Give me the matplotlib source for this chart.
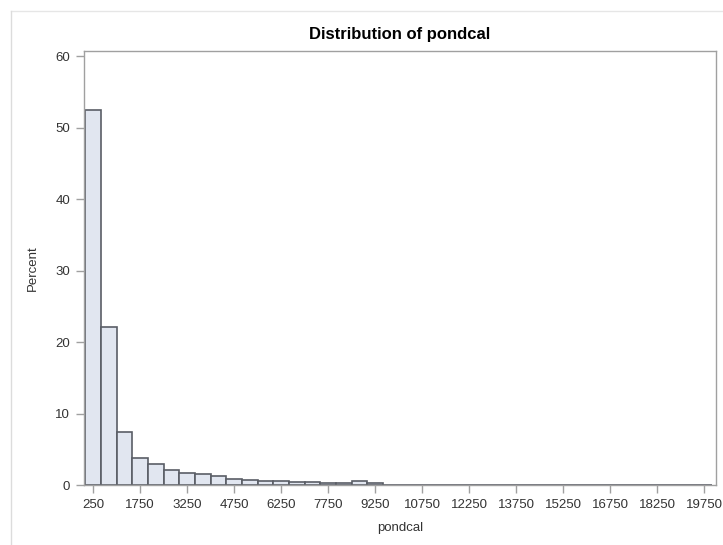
import matplotlib
matplotlib.use("Agg")
import matplotlib.pyplot as plt
from matplotlib.lines import Line2D
import numpy as np

# Histogram of pondcal: bins of width 500, midpoints 250 .. 19750
bin_width = 500
midpoints = list(range(250, 20000, 500))
percent = [52.4, 22.1, 7.35, 3.72, 2.9, 2.05, 1.72, 1.53, 1.28, 0.9,
           0.74, 0.58, 0.5, 0.43, 0.42, 0.3, 0.3, 0.62, 0.25, 0.05,
           0.04, 0.04, 0.03, 0.03, 0.04, 0.03, 0.02, 0.03, 0.02, 0.03,
           0.02, 0.02, 0.02, 0.03, 0.02, 0.02, 0.06, 0.05, 0.04, 0.06]
xtick_values = list(range(250, 20000, 1500))
ytick_values = [0, 10, 20, 30, 40, 50, 60]

plt.rcParams['font.family'] = ['Liberation Sans', 'DejaVu Sans']

fig = plt.figure(figsize=(7.23, 5.45), dpi=100)
fig.patch.set_facecolor('white')

# thin outer border of the graph area
fig.add_artist(Line2D([11 / 723, 1.0], [1 - 11 / 545, 1 - 11 / 545],
                      transform=fig.transFigure, color='#e6e6e6', lw=1))
fig.add_artist(Line2D([11 / 723, 11 / 723], [0, 1 - 11 / 545],
                      transform=fig.transFigure, color='#dcdcdc', lw=1))

ax = fig.add_axes([84 / 723, 1 - 485 / 545, (716 - 84) / 723, (485 - 51) / 545])

ax.bar(midpoints, percent, width=bin_width, align='center',
       color='#e1e6f0', edgecolor='#5a5e66', linewidth=1.2, zorder=2)

ax.set_xlim(-40, 20130)
ax.set_ylim(0, 60.7)
ax.set_xticks(xtick_values)
ax.set_xticklabels([str(v) for v in xtick_values])
ax.set_yticks(ytick_values)

for side in ['top', 'right', 'bottom', 'left']:
    ax.spines[side].set_color('#a0a0a0')
    ax.spines[side].set_linewidth(1.0)

ax.tick_params(axis='both', colors='#a0a0a0', labelcolor='#333333',
               labelsize=9.5, length=6, width=1, pad=4)

ax.set_title('Distribution of pondcal', fontsize=12, fontweight='bold',
             color='black', pad=9)
ax.set_xlabel('pondcal', fontsize=9.5, color='#333333', labelpad=8)
ax.set_ylabel('Percent', fontsize=9.5, color='#333333', labelpad=12)

fig.savefig('out.png', dpi=100, facecolor='white')
